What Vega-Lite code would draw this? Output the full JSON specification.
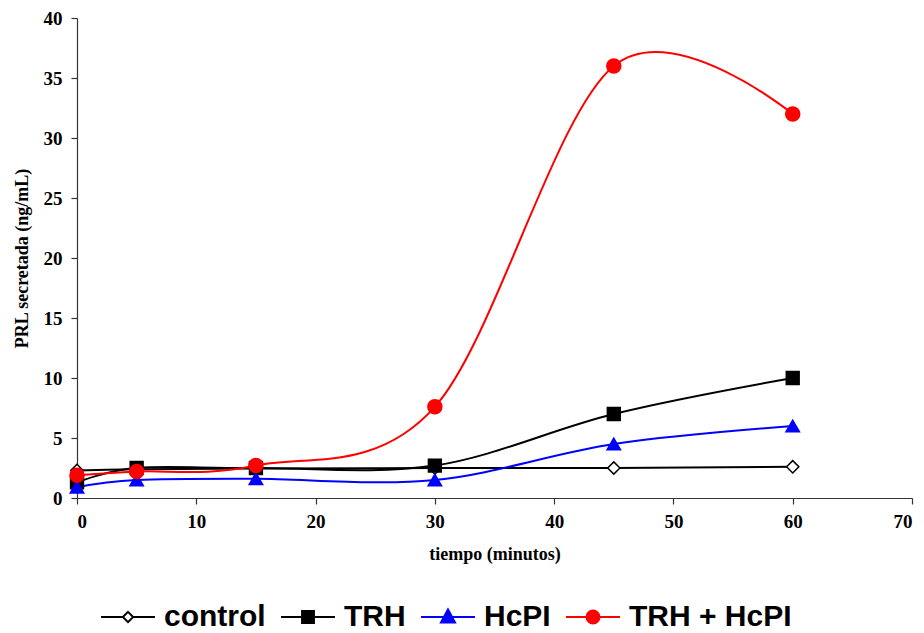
{
  "$schema": "https://vega.github.io/schema/vega-lite/v6.json",
  "autosize": "none",
  "padding": {"left": 77, "top": 18, "right": 12, "bottom": 135},
  "width": 835,
  "height": 480,
  "background": "white",
  "config": {
    "view": {"stroke": null},
    "axis": {
      "grid": false,
      "domainColor": "#333333",
      "tickColor": "#333333",
      "domainWidth": 1.2,
      "tickWidth": 1.2,
      "tickSize": 6,
      "labelFont": "Liberation Serif",
      "labelFontWeight": "bold",
      "labelFontSize": 19,
      "labelColor": "black",
      "titleFont": "Liberation Serif",
      "titleFontWeight": "bold",
      "titleFontSize": 18,
      "titleColor": "black"
    }
  },
  "data": {
    "values": [
      {"series": "control", "t": 0, "v": 2.3},
      {"series": "control", "t": 5, "v": 2.4},
      {"series": "control", "t": 15, "v": 2.45},
      {"series": "control", "t": 30, "v": 2.5},
      {"series": "control", "t": 45, "v": 2.5},
      {"series": "control", "t": 60, "v": 2.6},
      {"series": "TRH", "t": 0, "v": 1.3},
      {"series": "TRH", "t": 5, "v": 2.5},
      {"series": "TRH", "t": 15, "v": 2.5},
      {"series": "TRH", "t": 30, "v": 2.7},
      {"series": "TRH", "t": 45, "v": 7.0},
      {"series": "TRH", "t": 60, "v": 10.0},
      {"series": "HcPI", "t": 0, "v": 0.9},
      {"series": "HcPI", "t": 5, "v": 1.5},
      {"series": "HcPI", "t": 15, "v": 1.6},
      {"series": "HcPI", "t": 30, "v": 1.5},
      {"series": "HcPI", "t": 45, "v": 4.5},
      {"series": "HcPI", "t": 60, "v": 6.0},
      {"series": "TRH + HcPI", "t": 0, "v": 1.9},
      {"series": "TRH + HcPI", "t": 5, "v": 2.2},
      {"series": "TRH + HcPI", "t": 15, "v": 2.7},
      {"series": "TRH + HcPI", "t": 30, "v": 7.6},
      {"series": "TRH + HcPI", "t": 45, "v": 36.0},
      {"series": "TRH + HcPI", "t": 60, "v": 32.0}
    ]
  },
  "encoding": {
    "x": {
      "field": "t", "type": "quantitative",
      "scale": {"domain": [0, 70], "nice": false, "zero": false},
      "axis": {"values": [0, 10, 20, 30, 40, 50, 60, 70], "title": "tiempo (minutos)", "labelPadding": 8, "titlePadding": 14, "labelFont": "Liberation Serif", "titleFont": "Liberation Serif"}
    },
    "y": {
      "field": "v", "type": "quantitative",
      "scale": {"domain": [0, 40], "nice": false},
      "axis": {"values": [0, 5, 10, 15, 20, 25, 30, 35, 40], "title": "PRL secretada (ng/mL)", "labelPadding": 9, "titlePadding": 12, "labelFont": "Liberation Serif", "titleFont": "Liberation Serif"}
    }
  },
  "layer": [
    {
      "mark": {"type": "line", "interpolate": "cardinal", "strokeWidth": 2},
      "encoding": {
        "color": {
          "field": "series", "type": "nominal",
          "scale": {"domain": ["control", "TRH", "HcPI", "TRH + HcPI"], "range": ["black", "black", "#0000FF", "#FF0000"]},
          "legend": null
        },
        "detail": {"field": "series"}
      }
    },
    {
      "mark": {"type": "point", "filled": true, "opacity": 1, "strokeWidth": 1.5},
      "encoding": {
        "shape": {
          "field": "series", "type": "nominal",
          "scale": {"domain": ["control", "TRH", "HcPI", "TRH + HcPI"], "range": ["diamond", "square", "triangle-up", "circle"]},
          "legend": null
        },
        "fill": {
          "field": "series", "type": "nominal",
          "scale": {"domain": ["control", "TRH", "HcPI", "TRH + HcPI"], "range": ["white", "black", "#0000FF", "#FF0000"]},
          "legend": null
        },
        "stroke": {
          "field": "series", "type": "nominal",
          "scale": {"domain": ["control", "TRH", "HcPI", "TRH + HcPI"], "range": ["black", "black", "#0000FF", "#FF0000"]},
          "legend": null
        },
        "size": {
          "field": "series", "type": "nominal",
          "scale": {"domain": ["control", "TRH", "HcPI", "TRH + HcPI"], "range": [150, 196, 256, 256]},
          "legend": null
        }
      }
    },
    {
      "transform": [{"filter": "datum.t < -100"}],
      "mark": {"type": "point", "filled": true, "strokeWidth": 2},
      "encoding": {
        "shape": {
          "field": "series", "type": "nominal", "title": null,
          "scale": {"domain": ["control", "TRH", "HcPI", "TRH + HcPI"], "range": [
            "M-1,0H-0.19M0.19,0H1M0,-0.19L0.19,0L0,0.19L-0.19,0Z",
            "M-1,0H1M-0.22,-0.22H0.22V0.22H-0.22Z",
            "M-1,0H1M0,-0.28L0.26,0.2L-0.26,0.2Z",
            "M-1,0H1M0.24,0A0.24,0.24,0,1,1,-0.24,0A0.24,0.24,0,1,1,0.24,0Z"
          ]},
          "legend": {
            "orient": "none", "legendX": 23, "legendY": 571, "direction": "horizontal", "columns": 4,
            "padding": 0, "columnPadding": 11, "labelOffset": 8,
            "symbolSize": 2916, "symbolStrokeWidth": 2, "symbolOpacity": 1,
            "labelFont": "Liberation Sans", "labelFontWeight": "bold", "labelFontSize": 30, "labelColor": "black", "labelLimit": 400
          }
        },
        "fill": {
          "field": "series", "type": "nominal", "title": null,
          "scale": {"domain": ["control", "TRH", "HcPI", "TRH + HcPI"], "range": ["white", "black", "#0000FF", "#FF0000"]}
        },
        "stroke": {
          "field": "series", "type": "nominal", "title": null,
          "scale": {"domain": ["control", "TRH", "HcPI", "TRH + HcPI"], "range": ["black", "black", "#0000FF", "#FF0000"]}
        }
      }
    }
  ],
  "resolve": {"scale": {"color": "independent", "shape": "independent", "fill": "independent", "stroke": "independent", "size": "independent"}}
}
